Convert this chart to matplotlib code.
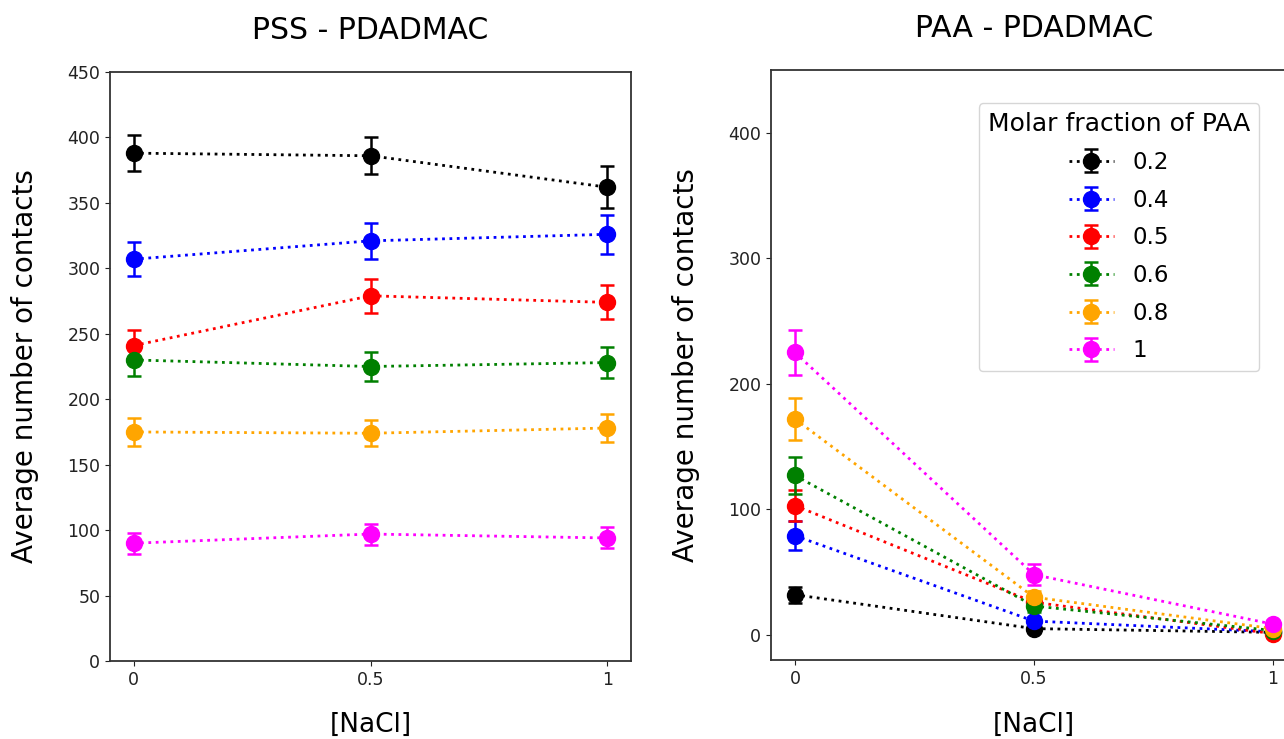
import matplotlib
matplotlib.use("Agg")
import matplotlib.pyplot as plt

nacl = [0, 0.5, 1]
fractions = ["0.2", "0.4", "0.5", "0.6", "0.8", "1"]
colors = ["black", "blue", "red", "green", "orange", "magenta"]

# PSS - PDADMAC
pss_mean = {
    "0.2": [388, 386, 362],
    "0.4": [307, 321, 326],
    "0.5": [241, 279, 274],
    "0.6": [230, 225, 228],
    "0.8": [175, 174, 178],
    "1":   [90, 97, 94],
}
pss_err = {
    "0.2": [14, 14, 16],
    "0.4": [13, 14, 15],
    "0.5": [12, 13, 13],
    "0.6": [12, 11, 12],
    "0.8": [11, 10, 11],
    "1":   [8, 8, 8],
}

# PAA - PDADMAC
paa_mean = {
    "0.2": [32, 5, 2],
    "0.4": [79, 11, 2.5],
    "0.5": [103, 26, 1],
    "0.6": [127, 23, 3.5],
    "0.8": [172, 30, 5],
    "1":   [225, 48, 8.5],
}
paa_err = {
    "0.2": [6.5, 2, 1],
    "0.4": [11.5, 3, 1],
    "0.5": [12.5, 4, 1],
    "0.6": [14.5, 5, 1],
    "0.8": [17, 5, 1],
    "1":   [18, 8.5, 1],
}

W, H = 1284, 739
fig = plt.figure(figsize=(W / 100, H / 100), dpi=100)

def px_axes(x0, y0, x1, y1):
    return fig.add_axes([x0 / W, 1 - y1 / H, (x1 - x0) / W, (y1 - y0) / H])

ax1 = px_axes(110, 72, 631, 661)
ax2 = px_axes(771, 70, 1297, 660)

style = dict(fmt="o", linestyle=":", linewidth=2, markersize=11.5, capsize=5, elinewidth=1.8, capthick=1.8)

for f, c in zip(fractions, colors):
    ax1.errorbar(nacl, pss_mean[f], yerr=pss_err[f], color=c, label=f, **style)
    ax2.errorbar(nacl, paa_mean[f], yerr=paa_err[f], color=c, label=f, **style)

ax1.set_ylim(0, 450)
ax1.set_yticks(range(0, 451, 50))
ax2.set_ylim(-20, 450)
ax2.set_yticks([0, 100, 200, 300, 400])

for ax, title in [(ax1, "PSS - PDADMAC"), (ax2, "PAA - PDADMAC")]:
    ax.set_xticks(nacl)
    ax.set_xticklabels(["0", "0.5", "1"])
    ax.tick_params(labelsize=12.5, colors="#222222")
    ax.set_title(title, fontsize=21.5, pad=24)
    ax.set_ylabel("Average number of contacts", fontsize=20)
    ax.set_xlabel("[NaCl]", fontsize=19)
    for s in ax.spines.values():
        s.set_color("#333333")
        s.set_linewidth(1.3)

ax1.yaxis.set_label_coords(-0.137, 0.5)
ax2.yaxis.set_label_coords(-0.135, 0.5)
ax1.xaxis.set_label_coords(0.5, -0.086)
ax2.xaxis.set_label_coords(0.5, -0.088)

leg = ax2.legend(title="Molar fraction of PAA", fontsize=16.5, title_fontsize=18,
                 loc="upper right", bbox_to_anchor=(0.928, 0.944), borderaxespad=0,
                 labelspacing=0.64)

fig.savefig("out.png", dpi=100)
